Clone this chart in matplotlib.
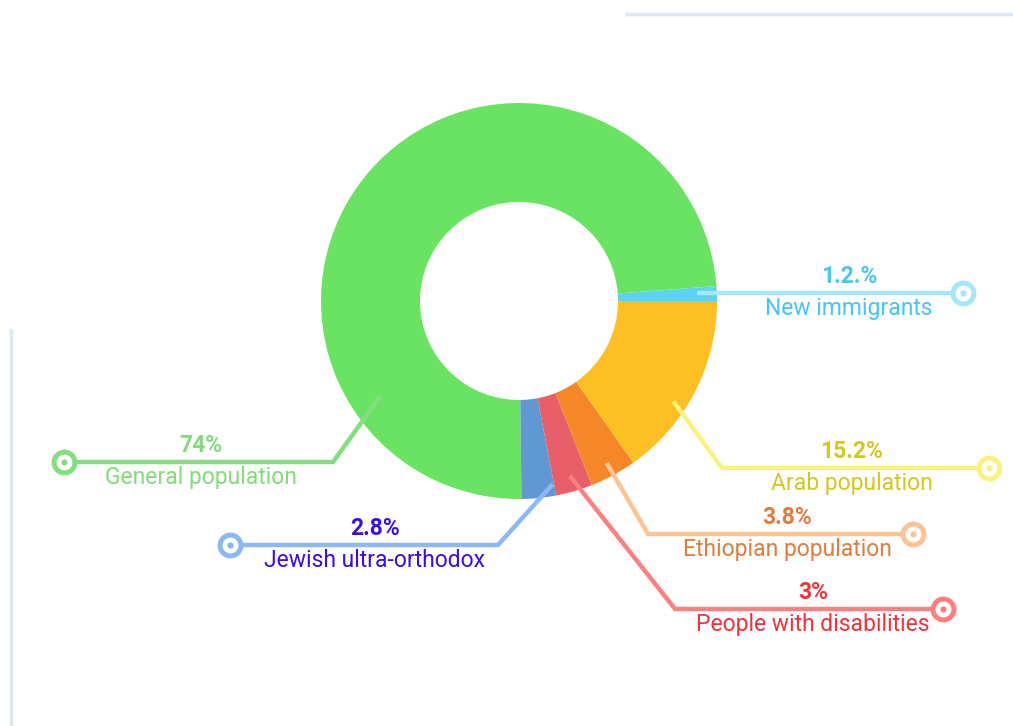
import numpy as np
import matplotlib.pyplot as plt

plt.rcParams['font.family'] = ['Roboto', 'DejaVu Sans']

# slice data, counter-clockwise from 3 o'clock
groups = ['New immigrants', 'General population', 'Jewish ultra-orthodox',
          'People with disabilities', 'Ethiopian population', 'Arab population']
shares = [1.2, 74, 2.8, 3, 3.8, 15.2]
pct_labels = ['1.2.%', '74%', '2.8%', '3%', '3.8%', '15.2%']

slice_colors = ['#5cd2f4', '#6ae363', '#5f98d3', '#e85f69', '#f58727', '#fdbf22']
line_colors = ['#a6e6fb', '#84dd80', '#8cb8f5', '#fd8080', '#fdc393', '#fbf27e']
text_colors = ['#45c6f3', '#85da80', '#3a0cf0', '#f0333b', '#e07c3c', '#d2c81e']

W, H = 1013, 726
cx, cy, R = 519, 301, 198

# leader layout: (anchor angle override, anchor radius, elbow x, row y, end x, text x)
leaders = [
    (None, 0.90, None, 293, 963, 849),
    (214.5, 0.85, 333, 462, 64, 201),
    (280.5, 0.94, 498, 545, 230, 375),
    (None, 0.92, 675, 609, 943, 813),
    (None, 0.93, 648, 534, 913, 787),
    (327.0, 0.93, 722, 468, 989, 852),
]


def fy(y):
    return H - y


fig = plt.figure(figsize=(W / 100, H / 100), dpi=100)
ax = fig.add_axes([0, 0, 1, 1])

wedges, _ = ax.pie(shares, colors=slice_colors, startangle=0, counterclock=True,
                   radius=R, center=(cx, fy(cy)),
                   wedgeprops=dict(width=R / 2, linewidth=0))

for i, w in enumerate(wedges):
    ang_override, rf, ex, ry, endx, tx = leaders[i]
    ang = ang_override if ang_override is not None else (w.theta1 + w.theta2) / 2
    r0 = rf * R
    x0 = cx + r0 * np.cos(np.radians(ang))
    y0 = fy(cy) + r0 * np.sin(np.radians(ang))
    if ex is None:
        xs, ys = [x0, endx], [fy(ry), fy(ry)]
    else:
        xs, ys = [x0, ex, endx], [y0, fy(ry), fy(ry)]
    ax.plot(xs, ys, color=line_colors[i], lw=3.2, solid_capstyle='butt',
            solid_joinstyle='miter', zorder=3)
    ax.plot(endx, fy(ry), 'o', ms=15, mfc='white', mec=line_colors[i], mew=3.6, zorder=4)
    ax.plot(endx, fy(ry), 'o', ms=4.5, color=line_colors[i], mew=0, zorder=5)
    ax.text(tx, fy(ry) + 5, pct_labels[i], ha='center', va='bottom',
            fontsize=16.5, fontweight='bold', color=text_colors[i])
    ax.text(tx, fy(ry) - 4, groups[i], ha='center', va='top',
            fontsize=16.5, color=text_colors[i])

# thin frame accents
ax.plot([627, W], [fy(14), fy(14)], color='#d7e9f8', lw=2.5)
ax.plot([11, 11], [fy(330), 0], color='#d7e9f8', lw=2.5)

ax.set_xlim(0, W)
ax.set_ylim(0, H)
ax.set_aspect('equal')
ax.axis('off')

fig.savefig('out.png', dpi=100)
